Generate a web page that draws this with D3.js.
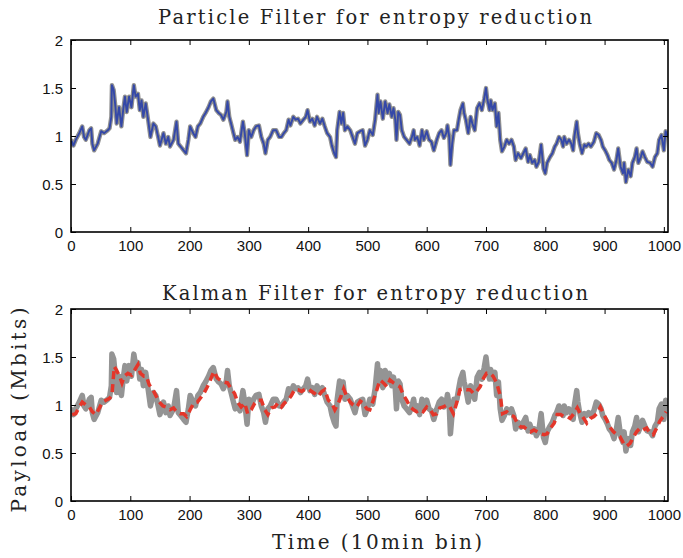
<!DOCTYPE html>
<html><head><meta charset="utf-8">
<script src="https://cdn.jsdelivr.net/npm/d3@7"></script>
<style>html,body{margin:0;padding:0;background:#fff;}svg{display:block;}</style>
</head><body>
<script>
// ---- data ----
const measBins = [1,4,8,14,19,22,25,31,34,36,39,45,51,56,62,65,68,69,72,75,77,81,85,88,91,94,98,102,106,109,113,116,119,122,126,130,134,139,143,147,150,156,160,164,167,173,178,181,185,190,194,198,201,206,210,214,218,223,227,232,
236,240,245,249,253,257,262,264,267,270,274,277,281,285,290,293,297,300,304,308,312,317,321,325,328,332,336,341,346,351,355,359,363,367,370,375,379,383,387,392,396,399,403,407,411,415,420,424,428,432,437,440,444,447,449,453,456,459,462,466,471,475,479,483,
488,492,496,500,504,509,513,517,519,522,526,530,534,537,541,544,547,549,552,555,558,562,566,571,575,578,580,584,588,592,595,600,604,608,612,617,621,625,629,633,635,638,640,643,646,651,654,657,661,663,666,670,674,677,681,685,689,693,697,700,702,706,708,711,715,718,721,724,727,731,735,739,
743,747,750,754,759,763,767,771,774,778,782,785,789,793,797,800,803,808,812,816,819,823,827,830,832,836,840,844,847,849,853,855,858,862,866,869,873,877,882,886,890,894,897,901,905,908,912,916,920,923,927,931,933,936,940,944,947,951,954,957,961,964,968,972,977,981,985,989,992,996,1000,1003,1006];
const measValues = [0.95,0.9,0.96,1.03,1.1,0.99,0.96,1.06,1.08,0.92,0.85,0.92,1.05,1.03,1.06,1.08,1.2,1.53,1.48,1.3,1.13,1.3,1.1,1.27,1.41,1.25,1.41,1.3,1.53,1.41,1.44,1.27,1.37,1.2,1.34,1.17,0.99,1.13,1.1,0.99,0.9,1.03,0.92,0.99,0.89,0.96,1.15,0.92,0.89,0.85,0.82,0.96,1.1,1.03,0.99,1.1,1.13,1.2,1.24,1.3,
1.36,1.39,1.27,1.24,1.22,1.17,1.25,1.36,1.2,1.13,1.03,0.96,0.99,0.94,1.15,1.03,0.8,1.06,0.99,1.06,1.1,1.11,0.99,0.92,0.82,0.96,0.99,1.06,1.06,0.99,0.99,1.03,1.06,1.17,1.11,1.2,1.17,1.18,1.13,1.17,1.2,1.27,1.15,1.18,1.11,1.2,1.13,1.18,1.1,1.03,0.99,0.9,0.82,0.78,1.06,1.25,1.13,1.24,1.06,1.1,1.06,0.99,0.92,1.03,
1.05,1.06,0.9,0.96,1.06,1.01,1.17,1.43,1.24,1.36,1.18,1.36,1.24,1.33,1.2,1.29,1.17,0.96,1.25,1.22,1.06,0.99,0.96,0.92,0.99,1.06,0.96,0.99,0.9,1.06,0.96,1.05,0.96,0.94,0.85,0.96,1.03,1.06,0.98,1.03,1.11,0.99,0.7,0.92,1.06,1.06,1.17,1.27,1.34,1.24,1.17,1.03,1.2,1.13,1.06,1.29,1.34,1.27,1.39,1.5,1.39,1.27,1.37,1.27,1.34,1.1,1.24,0.96,0.84,0.89,0.96,0.92,
0.96,0.89,0.75,0.82,0.77,0.82,0.87,0.73,0.8,0.72,0.75,0.68,0.73,0.91,0.66,0.61,0.72,0.78,0.82,0.89,0.92,0.99,0.96,0.89,0.99,0.92,0.96,0.92,0.85,0.99,1.15,1.03,0.92,0.82,0.91,0.89,0.92,0.89,0.94,1.03,1.01,0.96,0.89,0.85,0.8,0.75,0.72,0.65,0.75,0.87,0.68,0.61,0.72,0.52,0.65,0.58,0.72,0.78,0.87,0.72,0.78,0.84,0.78,0.73,0.72,0.68,0.78,0.82,0.96,1.01,0.85,1.05,1.0];
const particleValues = measValues; // particle filter estimate overlays the measured payload
const kalmanBins = [2,8,14,19,25,31,36,42,48,53,59,65,69,73,77,82,86,90,96,102,107,113,117,123,127,132,138,143,149,155,160,167,173,178,184,190,195,201,207,213,218,224,230,235,241,
247,256,264,270,276,281,287,293,298,304,310,315,321,327,332,338,344,349,355,360,366,372,377,383,389,394,400,406,411,417,423,428,434,440,445,451,456,460,465,471,476,482,
488,493,499,504,510,516,521,527,533,538,544,549,555,561,566,572,578,583,589,594,600,606,611,617,622,628,634,639,645,651,656,662,667,673,679,684,690,696,701,707,712,718,724,728,735,740,
747,753,759,764,770,775,781,787,792,798,803,809,815,820,826,831,837,842,848,854,859,865,870,876,882,887,893,898,904,909,915,921,926,932,937,943,949,954,960,965,971,977,982,988,993,999,1004];
const kalmanValues = [0.9,0.91,0.98,1.03,1.0,0.98,0.93,0.9,0.97,1.03,1.05,1.07,1.1,1.4,1.36,1.3,1.23,1.3,1.33,1.31,1.36,1.42,1.33,1.3,1.3,1.21,1.16,1.1,1.03,0.99,0.98,0.95,0.97,0.93,0.91,0.91,0.88,0.95,1.02,1.03,1.07,1.12,1.19,1.26,1.35,
1.28,1.24,1.23,1.17,1.12,1.03,0.98,1.02,0.91,0.95,1.02,1.05,1.05,0.95,0.9,0.97,0.98,1.02,0.98,1.02,1.05,1.1,1.16,1.16,1.14,1.16,1.17,1.14,1.12,1.09,1.14,1.16,1.05,1.02,0.95,1.02,1.1,1.17,1.09,1.03,1.0,0.98,
1.04,1.02,0.96,0.95,1.05,1.16,1.26,1.23,1.19,1.26,1.23,1.21,1.19,1.1,1.05,0.98,0.95,0.93,0.95,0.93,0.98,0.95,0.9,0.91,0.97,0.98,1.0,0.98,0.91,1.03,1.16,1.17,1.16,1.16,1.12,1.14,1.19,1.28,1.33,1.33,1.3,1.23,1.1,0.91,0.93,0.9,
0.88,0.81,0.77,0.77,0.74,0.72,0.74,0.72,0.7,0.69,0.7,0.76,0.81,0.9,0.9,0.88,0.88,0.86,0.91,0.97,0.91,0.86,0.81,0.86,0.88,0.91,0.98,0.91,0.84,0.77,0.72,0.69,0.67,0.6,0.57,0.6,0.67,0.72,0.76,0.74,0.76,0.7,0.69,0.76,0.83,0.88,0.93];
const xTicks = [0,100,200,300,400,500,600,700,800,900,1000];
const yTicks = [0,0.5,1,1.5,2];
const yTickLabels = ["0","0.5","1","1.5","2"];
const titles = ["Particle Filter for entropy reduction","Kalman Filter for entropy reduction"];
const xLabel = "Time (10min bin)";
const yLabel = "Payload (Mbits)";

// ---- drawing ----
const W = 683, H = 558;
const svg = d3.select("body").append("svg").attr("width", W).attr("height", H);
const x = d3.scaleLinear().domain([0, 1007]).range([71, 668]);
const panels = [
  {top: 40, bottom: 232, title: titles[0], titleY: 24, kind: "particle"},
  {top: 309, bottom: 501, title: titles[1], titleY: 300, kind: "kalman"}
];
const tickFont = "'Liberation Sans', Arial, Helvetica, sans-serif";
const serif = "'DejaVu Serif', 'Liberation Serif', serif";

const meas = measBins.map((b, i) => [b, measValues[i]]);
const part = measBins.map((b, i) => [b, particleValues[i]]);
const kal = kalmanBins.map((b, i) => [b, kalmanValues[i]]);

panels.forEach((p, pi) => {
  const y = d3.scaleLinear().domain([0, 2]).range([p.bottom, p.top]);
  const g = svg.append("g");
  const clipId = "clip" + pi;
  svg.append("clipPath").attr("id", clipId).append("rect")
    .attr("x", x.range()[0]).attr("y", p.top)
    .attr("width", x.range()[1] - x.range()[0]).attr("height", p.bottom - p.top);

  const line = d3.line().x(d => x(d[0])).y(d => y(d[1]));
  const lines = g.append("g").attr("clip-path", `url(#${clipId})`);
  if (p.kind === "particle") {
    lines.append("path").datum(meas).attr("d", line)
      .attr("fill", "none").attr("stroke", "#909090").attr("stroke-width", 4.3)
      .attr("stroke-linejoin", "round").attr("stroke-linecap", "round");
    lines.append("path").datum(part).attr("d", line)
      .attr("fill", "none").attr("stroke", "#3448a8").attr("stroke-width", 1.9)
      .attr("stroke-linejoin", "round");
  } else {
    lines.append("path").datum(meas).attr("d", line)
      .attr("fill", "none").attr("stroke", "#949494").attr("stroke-width", 5.5)
      .attr("stroke-linejoin", "round").attr("stroke-linecap", "round");
    lines.append("path").datum(kal).attr("d", line)
      .attr("fill", "none").attr("stroke", "#e4362a").attr("stroke-width", 3.5)
      .attr("stroke-dasharray", "8,5");
  }

  // axes with inward ticks
  const ax = g.append("g").attr("transform", `translate(0,${p.bottom})`)
    .call(d3.axisBottom(x).tickValues(xTicks).tickFormat(d3.format("d")).tickSize(-5).tickPadding(8));
  const axT = g.append("g").attr("transform", `translate(0,${p.top})`)
    .call(d3.axisTop(x).tickValues(xTicks).tickFormat("").tickSize(-5));
  const ay = g.append("g").attr("transform", `translate(${x.range()[0]},0)`)
    .call(d3.axisLeft(y).tickValues(yTicks).tickFormat((d, i) => yTickLabels[i]).tickSize(-5).tickPadding(8));
  const ayR = g.append("g").attr("transform", `translate(${x.range()[1]},0)`)
    .call(d3.axisRight(y).tickValues(yTicks).tickFormat("").tickSize(-5));
  [ax, axT, ay, ayR].forEach(a => {
    a.select(".domain").remove();
    a.selectAll(".tick line").attr("stroke", "#000").attr("stroke-width", 1);
    a.selectAll("text").attr("font-family", tickFont).attr("font-size", 15).attr("fill", "#111");
  });
  ax.selectAll("text").attr("dy", "0.71em");
  ay.selectAll("text").attr("dy", "0.36em");

  g.append("rect").attr("x", x.range()[0]).attr("y", p.top)
    .attr("width", x.range()[1] - x.range()[0]).attr("height", p.bottom - p.top)
    .attr("fill", "none").attr("stroke", "#000").attr("stroke-width", 1.6);

  svg.append("text").attr("x", 375).attr("y", p.titleY)
    .attr("text-anchor", "middle").attr("font-family", serif).attr("font-size", 19.5)
    .attr("fill", "#222").attr("textLength", pi === 0 ? 434 : 426).attr("lengthAdjust", "spacing")
    .text(p.title);
});

svg.append("text").attr("x", 377).attr("y", 549).attr("text-anchor", "middle")
  .attr("font-family", serif).attr("font-size", 20).attr("fill", "#222")
  .attr("textLength", 210).attr("lengthAdjust", "spacing").text(xLabel);
svg.append("text").attr("transform", "translate(26,410) rotate(-90)").attr("text-anchor", "middle")
  .attr("font-family", serif).attr("font-size", 20).attr("fill", "#222")
  .attr("textLength", 205).attr("lengthAdjust", "spacing").text(yLabel);
</script>
</body></html>
